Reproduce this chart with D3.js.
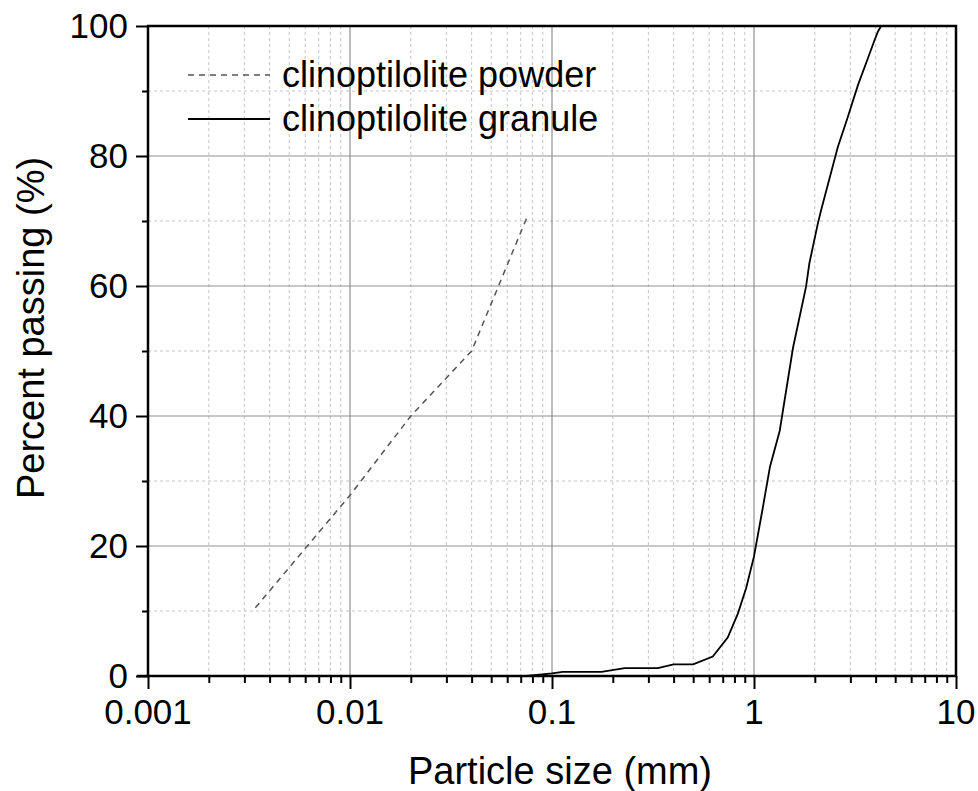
<!DOCTYPE html>
<html>
<head>
<meta charset="utf-8">
<script src="https://cdn.jsdelivr.net/npm/d3@7"></script>
<style>
  body { margin: 0; background: #fff; }
  text { font-family: "Liberation Sans", Arial, sans-serif; fill: #000; }
  .majorGrid { stroke: #8f8f8f; stroke-width: 1.2; }
  .minorGrid { stroke: #c4c4c4; stroke-width: 1; stroke-dasharray: 3,3; }
</style>
</head>
<body>
<div id="main"></div>
<script>
const ctx = {
    SVG_W: 978,
    SVG_H: 791,
    left: 148,
    right: 956,
    top: 26,
    bottom: 676,
};

// particle size (mm) / percent passing
const powderSize = [0.0034, 0.01, 0.02, 0.04, 0.075];
const powderPass = [10.5, 27.8, 40, 50, 70.5];

const granuleSize = [0.075, 0.1, 0.113, 0.176, 0.229, 0.334, 0.40, 0.50, 0.625, 0.741, 0.832, 0.914, 1.0,
    1.1, 1.2, 1.34, 1.56, 1.81, 1.88, 2.07, 2.15, 2.6, 2.9, 3.27, 3.66, 3.95, 4.1, 4.26];
const granulePass = [0, 0.4, 0.65, 0.65, 1.2, 1.2, 1.8, 1.8, 3.0, 5.9, 9.6, 13.5, 18.4,
    25.5, 32.2, 37.7, 50.5, 59.9, 63.5, 69.6, 71.7, 81.4, 85.8, 90.9, 95.0, 97.8, 99.1, 100];

const xTickValues = [0.001, 0.01, 0.1, 1, 10];
const xTickLabels = ["0.001", "0.01", "0.1", "1", "10"];
const yTickValues = [0, 20, 40, 60, 80, 100];
const yMinorValues = [10, 30, 50, 70, 90];

const legendLabels = ["clinoptilolite powder", "clinoptilolite granule"];

function drawChart(svgEl) {
    let x = d3.scaleLog().domain([0.001, 10]).range([ctx.left, ctx.right]);
    let y = d3.scaleLinear().domain([0, 100]).range([ctx.bottom, ctx.top]);

    // minor x values: 2..9 in every decade
    let xMinor = [];
    xTickValues.slice(0, -1).forEach(d => {
        for (let k = 2; k <= 9; k++) xMinor.push(d * k);
    });

    let grid = svgEl.append("g");
    grid.selectAll(".xMinor").data(xMinor).enter().append("line")
        .attr("class", "minorGrid")
        .attr("x1", d => x(d)).attr("x2", d => x(d))
        .attr("y1", ctx.top).attr("y2", ctx.bottom);
    grid.selectAll(".yMinor").data(yMinorValues).enter().append("line")
        .attr("class", "minorGrid")
        .attr("x1", ctx.left).attr("x2", ctx.right)
        .attr("y1", d => y(d)).attr("y2", d => y(d));
    grid.selectAll(".xMajor").data(xTickValues.slice(1, -1)).enter().append("line")
        .attr("class", "majorGrid")
        .attr("x1", d => x(d)).attr("x2", d => x(d))
        .attr("y1", ctx.top).attr("y2", ctx.bottom);
    grid.selectAll(".yMajor").data(yTickValues.slice(1, -1)).enter().append("line")
        .attr("class", "majorGrid")
        .attr("x1", ctx.left).attr("x2", ctx.right)
        .attr("y1", d => y(d)).attr("y2", d => y(d));

    // curves
    let lineGen = d3.line().x(d => x(d[0])).y(d => y(d[1]));
    let powder = d3.zip(powderSize, powderPass);
    let granule = d3.zip(granuleSize, granulePass);

    svgEl.append("path")
        .datum(powder)
        .attr("d", lineGen)
        .attr("fill", "none")
        .attr("stroke", "#555")
        .attr("stroke-width", 1.5)
        .attr("stroke-dasharray", "6,5");
    svgEl.append("path")
        .datum(granule)
        .attr("d", lineGen)
        .attr("fill", "none")
        .attr("stroke", "#000")
        .attr("stroke-width", 1.8);

    // axes
    let xAxis = d3.axisBottom(x)
        .tickValues(xTickValues.concat(xMinor))
        .tickSize(0)
        .tickFormat("");
    let gx = svgEl.append("g")
        .attr("transform", `translate(0,${ctx.bottom})`)
        .call(xAxis);
    gx.select(".domain").remove();
    gx.selectAll(".tick line")
        .attr("stroke", "#000")
        .attr("stroke-width", 2)
        .attr("y2", d => xTickValues.includes(d) ? 13 : 7);
    gx.selectAll(".tickLabel").data(xTickValues).enter().append("text")
        .attr("x", d => x(d))
        .attr("y", 48)
        .attr("text-anchor", "middle")
        .style("font-size", "35px")
        .text((d, i) => xTickLabels[i]);

    let yAxis = d3.axisLeft(y)
        .tickValues(yTickValues.concat(yMinorValues))
        .tickSize(0)
        .tickFormat("");
    let gy = svgEl.append("g")
        .attr("transform", `translate(${ctx.left},0)`)
        .call(yAxis);
    gy.select(".domain").remove();
    gy.selectAll(".tick line")
        .attr("stroke", "#000")
        .attr("stroke-width", 2)
        .attr("x2", d => yTickValues.includes(d) ? -12 : -6);
    gy.selectAll(".tickLabel").data(yTickValues).enter().append("text")
        .attr("x", -20)
        .attr("y", d => y(d))
        .attr("dy", "0.35em")
        .attr("text-anchor", "end")
        .style("font-size", "35px")
        .text(d => d);

    // frame
    svgEl.append("rect")
        .attr("x", ctx.left).attr("y", ctx.top)
        .attr("width", ctx.right - ctx.left)
        .attr("height", ctx.bottom - ctx.top)
        .attr("fill", "none")
        .attr("stroke", "#000")
        .attr("stroke-width", 2.5);
    svgEl.append("line")
        .attr("x1", ctx.left - 11).attr("x2", ctx.left)
        .attr("y1", ctx.bottom).attr("y2", ctx.bottom)
        .attr("stroke", "#000").attr("stroke-width", 2.5);

    // titles
    svgEl.append("text")
        .attr("x", 560)
        .attr("y", 784)
        .attr("text-anchor", "middle")
        .style("font-size", "38px")
        .text("Particle size (mm)");
    svgEl.append("text")
        .attr("transform", "translate(44,328) rotate(-90)")
        .attr("text-anchor", "middle")
        .style("font-size", "38px")
        .text("Percent passing (%)");

    // legend
    let legend = svgEl.append("g").attr("transform", "translate(188,75)");
    let styles = [
        { stroke: "#555", dash: "6,5", width: 1.5 },
        { stroke: "#000", dash: null, width: 1.8 }
    ];
    legendLabels.forEach((label, i) => {
        let row = legend.append("g").attr("transform", `translate(0,${i * 44})`);
        row.append("line")
            .attr("x1", 0).attr("x2", 82)
            .attr("y1", 0).attr("y2", 0)
            .attr("stroke", styles[i].stroke)
            .attr("stroke-width", styles[i].width)
            .attr("stroke-dasharray", styles[i].dash);
        row.append("text")
            .attr("x", 94)
            .attr("y", 12)
            .style("font-size", "36px")
            .text(label);
    });
}

function createViz() {
    let svgEl = d3.select("#main").append("svg");
    svgEl.attr("width", ctx.SVG_W);
    svgEl.attr("height", ctx.SVG_H);
    drawChart(svgEl);
}

createViz();
</script>
</body>
</html>
